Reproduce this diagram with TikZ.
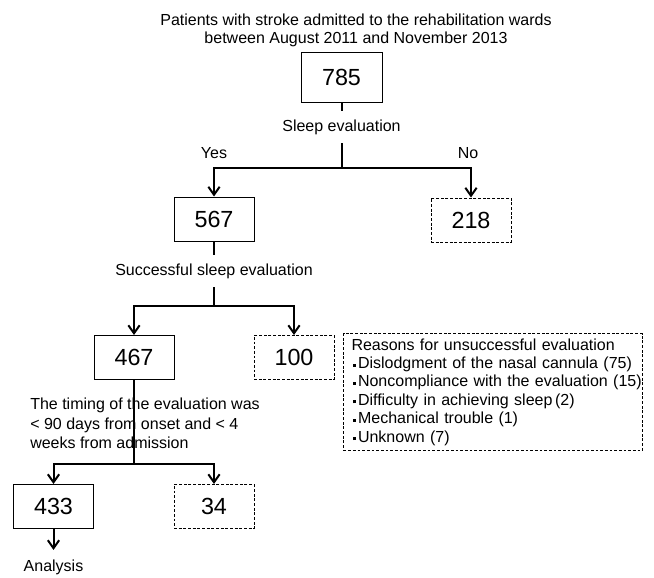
\documentclass[tikz,border=0pt]{standalone}
\usepackage{fontspec}
\setmainfont{Liberation Sans}
\usetikzlibrary{arrows.meta}
\newcommand\bulletdot{\hspace*{2.4pt}\rule[1.5pt]{2.2pt}{2.2pt}\hspace*{1.8pt}}
\begin{document}
\begin{tikzpicture}[x=0.75pt,y=-0.75pt,
  numbox/.style={draw,line width=0.75pt,minimum width=60pt,minimum height=33pt,inner sep=0pt,font=\fontsize{17.5}{20}\selectfont},
  dashbox/.style={numbox,dash pattern=on 2.2pt off 1.3pt},
  lbl/.style={font=\fontsize{12}{13.8}\selectfont,inner xsep=2pt,inner ysep=6.5pt},
  conn/.style={line width=1.5pt},
  arr/.style={conn,-{Straight Barb[length=6pt,width=8.5pt]}},
]
\useasboundingbox (0,0) rectangle (654,578);
\node[font=\fontsize{12}{13.5}\selectfont,align=center] (title) at (356,30.5)
  {Patients with stroke admitted to the rehabilitation wards\\between August 2011 and November 2013};
\node[numbox,minimum width=60.75pt,minimum height=37.5pt] (n785) at (341.5,77) {785};
\node[lbl] (se) at (341.5,127) {Sleep evaluation};
\coordinate (b1) at (341.5,168);
\node[numbox] (n567) at (214,219) {567};
\node[dashbox] (n218) at (471,220) {218};
\node[lbl] (yes) at (214,153.5) {Yes};
\node[lbl] (no) at (468,153) {No};
\draw[conn] (n785) -- (se);
\draw[conn] (se) -- (b1);
\draw[arr] (b1) -| (n567);
\draw[arr] (b1) -| (n218);

\node[lbl] (sse) at (214,271) {Successful sleep evaluation};
\coordinate (b2) at (214,306);
\node[numbox] (n467) at (134,357.5) {467};
\node[dashbox] (n100) at (294,357.5) {100};
\draw[conn] (n567) -- (sse);
\draw[conn] (sse) -- (b2);
\draw[arr] (b2) -| (n467);
\draw[arr] (b2) -| (n100);

\node[draw,dash pattern=on 2.2pt off 1.3pt,line width=0.75pt,anchor=north west,
  text width=224pt,minimum height=87.75pt,inner xsep=0pt,inner ysep=0pt,align=left,
  font=\fontsize{12}{13.8}\selectfont] (reasons) at (343,333)
  {\hspace*{6pt}Reasons for unsuccessful evaluation\\
   \hspace*{4.5pt}\bulletdot Dislodgment of the nasal cannula (75)\\
   \hspace*{4.5pt}\bulletdot Noncompliance with the evaluation (15)\\
   \hspace*{4.5pt}\bulletdot Difficulty in achieving sleep\,(2)\\
   \hspace*{4.5pt}\bulletdot Mechanical trouble (1)\\
   \hspace*{4.5pt}\bulletdot Unknown (7)};

\coordinate (b3) at (134,464);
\draw[conn] (n467) -- (b3);
\node[font=\fontsize{12}{14.6}\selectfont,align=left,anchor=west,inner sep=0pt] (timing) at (30,423.5)
  {The timing of the evaluation was\\\textless{} 90 days from onset and \textless{} 4\\weeks from admission};
\node[numbox] (n433) at (53.5,506.5) {433};
\node[dashbox] (n34) at (214,506.5) {34};
\draw[arr] (b3) -| (n433);
\draw[arr] (b3) -| (n34);
\node[lbl,inner ysep=7pt] (an) at (53.5,567) {Analysis};
\draw[arr] (n433) -- (an);
\end{tikzpicture}
\end{document}
